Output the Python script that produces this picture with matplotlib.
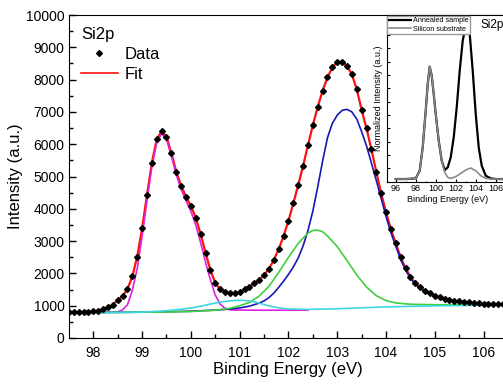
import numpy as np
import matplotlib
matplotlib.use("Agg")
import matplotlib.pyplot as plt
from matplotlib.ticker import MultipleLocator

plt.rcParams['font.family'] = ['Liberation Sans', 'DejaVu Sans']

# measured spectrum, 0.1 eV steps from 97.5 eV
energy = np.round(np.arange(97.5, 106.45, 0.1), 1)
counts = [790, 795, 800, 808, 815, 825, 845, 885, 945, 1035,
          1165, 1305, 1510, 1910, 2520, 3400, 4420, 5430, 6150, 6400,
          6230, 5720, 5150, 4710, 4380, 4080, 3730, 3210, 2640, 2100,
          1700, 1510, 1420, 1385, 1385, 1430, 1505, 1590, 1690, 1800,
          1950, 2140, 2420, 2750, 3160, 3630, 4170, 4740, 5330, 5970,
          6590, 7160, 7660, 8070, 8380, 8545, 8555, 8420, 8160, 7700,
          7060, 6490, 5840, 5150, 4480, 3900, 3365, 2930, 2500, 2160,
          1900, 1695, 1570, 1465, 1385, 1310, 1260, 1215, 1180, 1155,
          1135, 1115, 1100, 1085, 1075, 1065, 1055, 1050, 1045, 1042]
fit = counts

# fitted components (each sits on the background)
si0_e = [97.5, 98.0, 98.4, 98.5, 98.6, 98.7, 98.8, 98.9, 99.0, 99.1, 99.2, 99.3,
         99.4, 99.5, 99.6, 99.7, 99.8, 99.9, 100.0, 100.1, 100.2, 100.3, 100.4,
         100.5, 100.6, 100.7, 100.8, 100.9, 101.5, 102.4]
si0 = [790, 793, 798, 810, 870, 1030, 1480, 2150, 3150, 4250, 5300, 6050,
       6330, 6150, 5630, 5060, 4600, 4250, 3920, 3500, 2950, 2350, 1800,
       1330, 1050, 920, 875, 865, 860, 860]

si4_e = [97.5, 98.0, 98.5, 99.0, 99.5, 100.0, 100.5, 100.8, 101.0, 101.2, 101.4,
         101.5, 101.6, 101.7, 101.8, 101.9, 102.0, 102.1, 102.2, 102.3, 102.4,
         102.5, 102.6, 102.7, 102.8, 102.9, 103.0, 103.1, 103.2, 103.3, 103.4,
         103.5, 103.6, 103.7, 103.8, 103.9, 104.0, 104.1, 104.2, 104.3, 104.4,
         104.5, 104.6, 104.7, 104.8, 104.9, 105.0, 105.2, 105.4, 105.6, 105.8,
         106.0, 106.2, 106.4]
si4 = [785, 790, 795, 800, 812, 830, 865, 895, 930, 985, 1080,
       1150, 1250, 1390, 1570, 1760, 1970, 2200, 2480, 2850, 3330,
       3930, 4680, 5480, 6200, 6650, 6900, 7050, 7080, 7000, 6780,
       6390, 5950, 5420, 4880, 4320, 3760, 3260, 2840, 2430, 2100,
       1850, 1660, 1535, 1440, 1365, 1295, 1205, 1148, 1110, 1080,
       1060, 1048, 1040]

sub_e = [97.5, 98.5, 99.5, 100.0, 100.5, 100.8, 101.0, 101.2, 101.4, 101.6,
         101.8, 102.0, 102.2, 102.4, 102.5, 102.6, 102.7, 102.8, 103.0, 103.2,
         103.4, 103.6, 103.8, 104.0, 104.2, 104.5, 105.0, 106.4]
sub = [785, 792, 805, 820, 860, 920, 1000, 1100, 1300, 1600,
       2030, 2500, 2930, 3250, 3330, 3340, 3290, 3160, 2830, 2400,
       1950, 1580, 1310, 1160, 1085, 1045, 1030, 1040]

low_e = [97.5, 98.0, 98.5, 99.0, 99.5, 99.8, 100.0, 100.2, 100.4, 100.6, 100.8,
         101.0, 101.2, 101.4, 101.6, 101.8, 102.0, 102.4, 103.0, 103.5, 104.0,
         104.5, 105.0, 105.5, 106.4]
low = [780, 784, 790, 800, 845, 890, 930, 985, 1050, 1110, 1150,
       1170, 1150, 1080, 995, 935, 900, 885, 905, 935, 962,
       980, 995, 1005, 1020]

# inset: normalized spectra
ann_e = [96.0, 97.0, 98.0, 98.4, 98.7, 99.0, 99.2, 99.4, 99.6, 99.8, 100.0,
         100.3, 100.6, 100.9, 101.2, 101.5, 101.8, 102.1, 102.4, 102.7, 103.0,
         103.2, 103.4, 103.7, 104.0, 104.3, 104.6, 105.0, 105.5, 106.0, 106.7]
annealed = [0.016, 0.016, 0.02, 0.066, 0.206, 0.426, 0.586, 0.69, 0.636, 0.526,
            0.406, 0.246, 0.126, 0.07, 0.086, 0.146, 0.266, 0.446, 0.666, 0.846,
            0.936, 0.946, 0.886, 0.666, 0.406, 0.206, 0.096, 0.036, 0.02, 0.016,
            0.016]
subs_e = [96.0, 97.0, 98.0, 98.4, 98.7, 99.0, 99.2, 99.4, 99.6, 99.8, 100.0,
          100.3, 100.6, 100.9, 101.2, 101.5, 102.0, 102.5, 103.0, 103.5, 104.0,
          104.5, 105.0, 105.5, 106.0, 106.7]
substrate = [0.016, 0.016, 0.02, 0.066, 0.206, 0.426, 0.586, 0.69, 0.636, 0.526,
             0.406, 0.246, 0.126, 0.056, 0.026, 0.02, 0.03, 0.05, 0.07, 0.082,
             0.066, 0.036, 0.02, 0.016, 0.016, 0.016]

fig = plt.figure(figsize=(5.03, 3.84), dpi=100)
ax = fig.add_axes([0.138, 0.1198, 0.87, 0.841])

ax.plot(energy, fit, color='#ff1010', lw=1.6, zorder=2)
ax.plot(si0_e, si0, color='#dd22dd', lw=1.2, zorder=3)
ax.plot(si4_e, si4, color='#1818b4', lw=1.2, zorder=3)
ax.plot(sub_e, sub, color='#3ed03e', lw=1.2, zorder=3)
ax.plot(low_e, low, color='#3fd6e0', lw=1.2, zorder=3)
ax.plot(energy, counts, ls='none', marker='D', ms=3.0, color='black', zorder=4, label='Data')
ax.plot([], [], color='#ff1010', lw=1.2, label='Fit')

ax.set_xlim(97.51, 106.48)
ax.set_ylim(0, 10000)
ax.xaxis.set_major_locator(MultipleLocator(1))
ax.xaxis.set_minor_locator(MultipleLocator(0.5))
ax.yaxis.set_major_locator(MultipleLocator(1000))
ax.yaxis.set_minor_locator(MultipleLocator(500))
ax.tick_params(which='both', direction='in', labelsize=10)
ax.tick_params(which='major', length=5, width=1)
ax.tick_params(which='minor', length=3, width=1)
ax.tick_params(axis='x', pad=6)
ax.set_xlabel('Binding Energy (eV)', fontsize=12, labelpad=1)
ax.set_ylabel('Intensity (a.u.)', fontsize=12, labelpad=2)
leg = ax.legend(title='Si2p', loc='upper left', frameon=False, fontsize=12,
                title_fontsize=12, alignment='left', handlelength=2.2,
                handletextpad=0.4, labelspacing=0.3, borderaxespad=0.3)

# inset
ins = fig.add_axes([0.7688, 0.5268, 0.24, 0.4342])
ins.plot(ann_e, annealed, color='black', lw=1.6, label='Annealed sample')
ins.plot(subs_e, substrate, color='#8a8a8a', lw=1.2, label='Silicon substrate')
ins.set_xlim(95.1, 107.17)
ins.set_ylim(0, 1)
ins.xaxis.set_major_locator(MultipleLocator(2))
ins.xaxis.set_minor_locator(MultipleLocator(1))
ins.yaxis.set_major_locator(MultipleLocator(0.08))
ins.set_yticklabels([])
ins.tick_params(which='both', direction='in', labelsize=6.5, pad=2, length=2)
ins.tick_params(which='minor', length=1)
ins.set_xlabel('Binding Energy (eV)', fontsize=6.5, labelpad=1)
ins.set_ylabel('Normalized Intensity (a.u.)', fontsize=6.5, labelpad=1)
ins.legend(loc='upper left', fontsize=5.2, handlelength=3, handletextpad=0.3,
           borderpad=0.2, borderaxespad=0.1, labelspacing=0.2, fancybox=False,
           edgecolor='#999999', framealpha=1)
ins.text(0.775, 0.94, 'Si2p', transform=ins.transAxes, fontsize=8.5, va='center')

fig.savefig('out.png', dpi=100)
